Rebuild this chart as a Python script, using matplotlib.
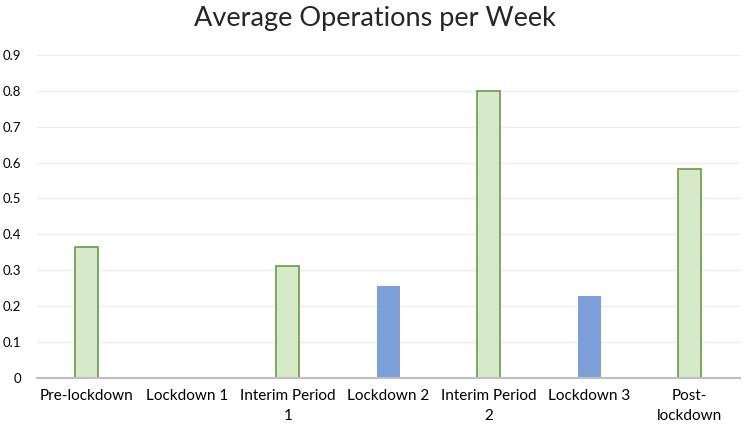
import matplotlib
matplotlib.use("Agg")
import matplotlib.pyplot as plt

categories = ["Pre-lockdown", "Lockdown 1", "Interim Period\n1", "Lockdown 2",
              "Interim Period\n2", "Lockdown 3", "Post-\nlockdown"]
values = [0.364, 0.0, 0.312, 0.257, 0.800, 0.227, 0.582]
is_lockdown = [False, True, False, True, False, True, False]

green_fill = "#d6e9c8"
green_edge = "#6a9a48"
blue_fill = "#7c9fd9"

plt.rcParams["font.family"] = ["Lato", "DejaVu Sans"]

fig = plt.figure(figsize=(7.49, 4.29), dpi=100)
ax = fig.add_axes([0.049, 0.119, 0.939, 0.753])

x = list(range(len(categories)))
for i, (v, lock) in enumerate(zip(values, is_lockdown)):
    if v == 0:
        continue
    if lock:
        ax.bar(i, v, width=0.23, color=blue_fill, edgecolor="none", zorder=3)
    else:
        ax.bar(i, v, width=0.23, color=green_fill, edgecolor=green_edge,
               linewidth=1.2, zorder=3)

ax.set_xlim(-0.5, len(categories) - 0.5)
ax.set_ylim(0, 0.9)
ax.set_yticks([i / 10 for i in range(10)])
ax.set_yticklabels(["0"] + [f"{i / 10:.1f}" for i in range(1, 10)], fontsize=9.5)
ax.set_xticks(x)
ax.set_xticklabels(categories, fontsize=11, linespacing=1.5)
ax.tick_params(axis="both", length=0, colors="#000000")
ax.tick_params(axis="y", pad=11)
ax.tick_params(axis="x", pad=8)
ax.grid(axis="y", color="#ececec", linewidth=1, zorder=0)
for s in ["top", "right", "left"]:
    ax.spines[s].set_visible(False)
ax.spines["bottom"].set_color("#bfbfbf")
ax.spines["bottom"].set_linewidth(1.5)
ax.spines["bottom"].set_zorder(4)

fig.text(0.5, 0.958, "Average Operations per Week", ha="center", va="center",
         fontsize=19.5, color="#262626")

fig.savefig("out.png", dpi=100)
